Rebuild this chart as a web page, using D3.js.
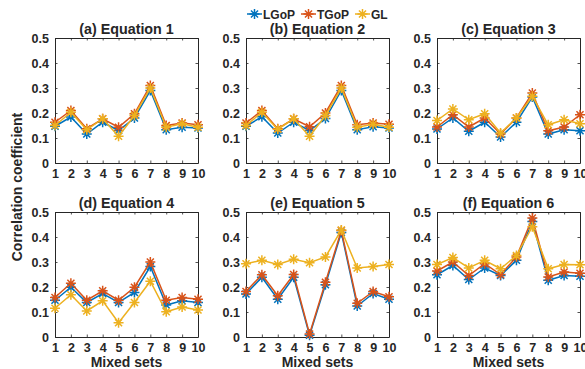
<!DOCTYPE html>
<html>
<head>
<meta charset="utf-8">
<script src="https://cdn.jsdelivr.net/npm/d3@7"></script>
<style>
  body { margin: 0; background: #fff; }
  svg text { font-family: "Liberation Sans", Arial, sans-serif; font-weight: bold; fill: #262626; }
</style>
</head>
<body>
<div id="chart"></div>
<script>
'use strict';

var sets = [1, 2, 3, 4, 5, 6, 7, 8, 9, 10];
var yTicks = [0, 0.1, 0.2, 0.3, 0.4, 0.5];
var seriesNames = ["LGoP", "TGoP", "GL"];
var seriesColors = ["#0072BD", "#D95319", "#EDB120"];
var titles = ["(a) Equation 1", "(b) Equation 2", "(c) Equation 3",
              "(d) Equation 4", "(e) Equation 5", "(f) Equation 6"];

var eq1LGoP = [0.147, 0.184, 0.116, 0.163, 0.130, 0.180, 0.290, 0.133, 0.143, 0.140];
var eq1TGoP = [0.163, 0.210, 0.137, 0.177, 0.143, 0.197, 0.310, 0.150, 0.160, 0.153];
var eq1GL   = [0.150, 0.203, 0.133, 0.177, 0.107, 0.190, 0.300, 0.143, 0.157, 0.143];

var eq2LGoP = [0.147, 0.185, 0.120, 0.163, 0.130, 0.178, 0.290, 0.133, 0.145, 0.140];
var eq2TGoP = [0.160, 0.210, 0.137, 0.177, 0.145, 0.200, 0.310, 0.153, 0.160, 0.155];
var eq2GL   = [0.150, 0.203, 0.135, 0.177, 0.107, 0.190, 0.300, 0.143, 0.155, 0.143];

var eq3LGoP = [0.136, 0.180, 0.127, 0.163, 0.104, 0.163, 0.264, 0.116, 0.133, 0.129];
var eq3TGoP = [0.144, 0.193, 0.144, 0.180, 0.116, 0.180, 0.280, 0.129, 0.144, 0.193];
var eq3GL   = [0.170, 0.216, 0.173, 0.197, 0.120, 0.180, 0.267, 0.153, 0.173, 0.157];

var eq4LGoP = [0.147, 0.199, 0.138, 0.174, 0.138, 0.178, 0.282, 0.128, 0.145, 0.138];
var eq4TGoP = [0.158, 0.215, 0.147, 0.185, 0.147, 0.199, 0.300, 0.147, 0.158, 0.151];
var eq4GL   = [0.115, 0.169, 0.104, 0.145, 0.057, 0.138, 0.223, 0.101, 0.120, 0.108];

var eq5LGoP = [0.172, 0.239, 0.151, 0.239, 0.007, 0.209, 0.418, 0.124, 0.174, 0.151];
var eq5TGoP = [0.182, 0.249, 0.165, 0.250, 0.012, 0.219, 0.426, 0.135, 0.182, 0.161];
var eq5GL   = [0.293, 0.307, 0.290, 0.311, 0.297, 0.320, 0.428, 0.276, 0.282, 0.290];

var eq6LGoP = [0.249, 0.286, 0.230, 0.276, 0.246, 0.307, 0.462, 0.227, 0.246, 0.243];
var eq6TGoP = [0.264, 0.300, 0.246, 0.293, 0.250, 0.320, 0.476, 0.240, 0.260, 0.255];
var eq6GL   = [0.290, 0.318, 0.276, 0.307, 0.273, 0.326, 0.441, 0.273, 0.290, 0.289];

var panels = [
  [eq1LGoP, eq1TGoP, eq1GL], [eq2LGoP, eq2TGoP, eq2GL], [eq3LGoP, eq3TGoP, eq3GL],
  [eq4LGoP, eq4TGoP, eq4GL], [eq5LGoP, eq5TGoP, eq5GL], [eq6LGoP, eq6TGoP, eq6GL]
];

var width = 585, height = 369;
var pw = 143, ph = 125;
var lefts = [55, 246, 437];
var tops = [38, 212];
var tickLen = 2.5;

var svg = d3.select("#chart").append("svg")
  .attr("width", width)
  .attr("height", height);

// 8-point asterisk marker, like matlab's '*'
function asterisk(r) {
  var d = "", a = r * 0.7071;
  d += "M" + (-r) + ",0L" + r + ",0";
  d += "M0," + (-r) + "L0," + r;
  d += "M" + (-a) + "," + (-a) + "L" + a + "," + a;
  d += "M" + (-a) + "," + a + "L" + a + "," + (-a);
  return d;
}

panels.forEach(function(series, p) {
  var col = p % 3, row = Math.floor(p / 3);
  var g = svg.append("g")
    .attr("transform", "translate(" + lefts[col] + "," + tops[row] + ")");

  var x = d3.scaleLinear().domain([1, 10]).range([0, pw]);
  var y = d3.scaleLinear().domain([0, 0.5]).range([ph, 0]);

  // axes with inward ticks on all four sides
  var xb = g.append("g").attr("transform", "translate(0," + ph + ")")
    .call(d3.axisBottom(x).tickValues(sets).tickSizeInner(-tickLen).tickSizeOuter(0).tickPadding(6).tickFormat(d3.format("d")));
  var xt = g.append("g")
    .call(d3.axisTop(x).tickValues(sets).tickSizeInner(-tickLen).tickSizeOuter(0).tickFormat(""));
  var yl = g.append("g")
    .call(d3.axisLeft(y).tickValues(yTicks).tickSizeInner(-tickLen).tickSizeOuter(0).tickPadding(6).tickFormat(function(d){ return d === 0 ? "0" : d3.format(".1f")(d); }));
  var yr = g.append("g").attr("transform", "translate(" + pw + ",0)")
    .call(d3.axisRight(y).tickValues(yTicks).tickSizeInner(-tickLen).tickSizeOuter(0).tickFormat(""));

  [xb, xt, yl, yr].forEach(function(a) {
    a.selectAll("path").attr("stroke", "#262626").attr("stroke-width", 1);
    a.selectAll("line").attr("stroke", "#262626").attr("stroke-width", 0.8);
    a.selectAll("text").attr("font-size", 12.5).style("fill", "#262626")
      .attr("font-family", "Liberation Sans, Arial, sans-serif").attr("font-weight", "bold");
  });

  g.append("text")
    .attr("x", pw / 2)
    .attr("y", -4)
    .attr("text-anchor", "middle")
    .attr("font-size", 14.3)
    .text(titles[p]);

  if (row === 1) {
    g.append("text")
      .attr("x", pw / 2)
      .attr("y", ph + 30)
      .attr("text-anchor", "middle")
      .attr("font-size", 14)
      .text("Mixed sets");
  }

  var line = d3.line()
    .x(function(d, i) { return x(sets[i]); })
    .y(function(d) { return y(d); });

  series.forEach(function(vals, s) {
    g.append("path")
      .datum(vals)
      .attr("fill", "none")
      .attr("stroke", seriesColors[s])
      .attr("stroke-width", 1.5)
      .attr("d", line);
    g.selectAll(".m" + s)
      .data(vals)
      .enter().append("path")
      .attr("class", "m" + s)
      .attr("transform", function(d, i) { return "translate(" + x(sets[i]) + "," + y(d) + ")"; })
      .attr("d", asterisk(5))
      .attr("stroke", seriesColors[s])
      .attr("stroke-width", 1.5)
      .attr("fill", "none");
  });
});

// y label
svg.append("text")
  .attr("transform", "translate(22,187) rotate(-90)")
  .attr("text-anchor", "middle")
  .attr("font-size", 14)
  .text("Correlation coefficient");

// legend
var legendX = [247, 301, 355];
var leg = svg.append("g").attr("transform", "translate(0,14)");
seriesNames.forEach(function(name, s) {
  var lg = leg.append("g").attr("transform", "translate(" + legendX[s] + ",0)");
  lg.append("line").attr("x1", 0).attr("x2", 15).attr("y1", 0).attr("y2", 0)
    .attr("stroke", seriesColors[s]).attr("stroke-width", 1.5);
  lg.append("path").attr("transform", "translate(7.5,0)").attr("d", asterisk(5))
    .attr("stroke", seriesColors[s]).attr("stroke-width", 1.5);
  lg.append("text").attr("x", 16).attr("y", 4.5).attr("font-size", 12).text(name);
});
</script>
</body>
</html>
